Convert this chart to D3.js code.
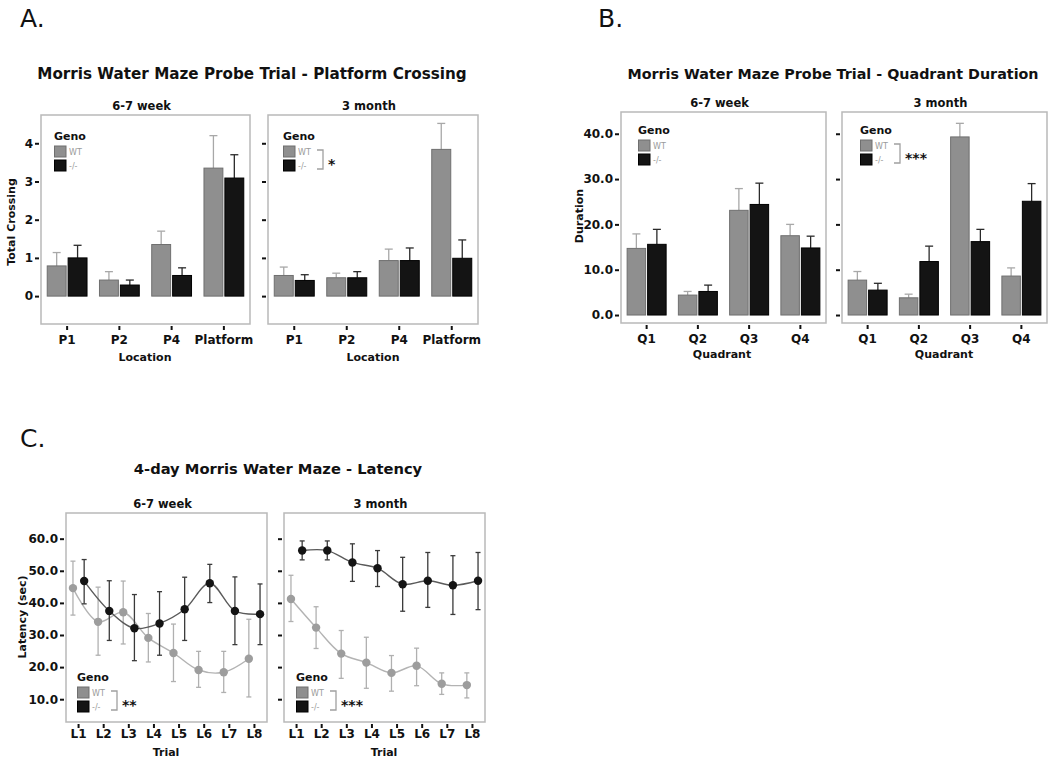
<!DOCTYPE html>
<html><head><meta charset="utf-8">
<script src="https://cdn.jsdelivr.net/npm/d3@7"></script>
<style>body{margin:0;background:#fff} svg{display:block} text{font-family:"DejaVu Sans",Verdana,sans-serif}</style>
</head><body><svg id="c" width="1050" height="761"></svg>
<script>
// ---------- DATA ----------
const locations = ["P1","P2","P4","Platform"];
const crossWT_6w    = [0.79,0.42,1.35,3.35];
const crossWTErr_6w = [1.14,0.64,1.70,4.20];
const crossKO_6w    = [1.00,0.29,0.54,3.09];
const crossKOErr_6w = [1.33,0.42,0.74,3.70];
const crossWT_3m    = [0.54,0.48,0.93,3.84];
const crossWTErr_3m = [0.76,0.60,1.23,4.52];
const crossKO_3m    = [0.41,0.48,0.93,0.99];
const crossKOErr_3m = [0.56,0.64,1.26,1.47];
const crossTicks = [0,1,2,3,4];

const quadrants = ["Q1","Q2","Q3","Q4"];
const durWT_6w    = [14.7,4.4,23.1,17.5];
const durWTErr_6w = [17.9,5.2,27.9,20.0];
const durKO_6w    = [15.6,5.2,24.4,14.8];
const durKOErr_6w = [18.9,6.6,29.1,17.4];
const durWT_3m    = [7.7,3.8,39.3,8.6];
const durWTErr_3m = [9.6,4.6,42.3,10.4];
const durKO_3m    = [5.5,11.8,16.2,25.1];
const durKOErr_3m = [7.0,15.2,18.9,29.0];
const durTicks = [0,10,20,30,40];

const trials = ["L1","L2","L3","L4","L5","L6","L7","L8"];
const latWT_6w   = [44.6,34.1,37.1,29.1,24.4,19.1,18.4,22.6];
const latWTLo_6w = [36.2,23.7,27.2,21.6,15.5,13.7,12.1,10.7];
const latWTHi_6w = [53.0,44.9,46.8,36.7,33.4,24.9,24.9,34.9];
const latKO_6w   = [46.8,37.5,32.1,33.6,38.0,46.1,37.5,36.5];
const latKOLo_6w = [39.7,28.3,22.0,23.7,28.3,40.1,27.0,27.0];
const latKOHi_6w = [53.5,46.9,42.6,43.5,48.0,52.0,48.1,45.9];
const latWT_3m   = [41.2,32.3,24.2,21.4,18.2,20.4,14.8,14.4];
const latWTLo_3m = [34.2,25.8,16.5,13.4,12.5,14.2,11.5,10.4];
const latWTHi_3m = [48.6,38.8,31.4,29.3,23.6,25.9,18.2,18.2];
const latKO_3m   = [56.3,56.3,52.6,50.8,45.8,46.9,45.5,46.9];
const latKOLo_3m = [53.4,53.4,46.7,45.1,37.4,38.6,36.4,37.9];
const latKOHi_3m = [59.3,59.3,58.4,56.3,54.2,55.7,54.7,55.7];
const latTicks = [10,20,30,40,50,60];

const genoLabels = ["WT","-/-"];
const facetLabels = ["6-7 week","3 month"];

// ---------- STYLE ----------
const svg = d3.select("#c");
const FONT = "DejaVu Sans, Verdana, sans-serif";
const WT_FILL="#8f8f8f", WT_STROKE="#6f6f6f", WT_ERR="#a8a8a8";
const KO_FILL="#141414", KO_STROKE="#000", KO_ERR="#2a2a2a";
const BORDER="#b9b9b9";

function txt(x,y,s,o={}){
  const t=svg.append("text").attr("x",x).attr("y",y).text(s)
    .attr("font-family",o.family||FONT)
    .attr("font-size",o.size||12).attr("font-weight",o.weight||"bold")
    .attr("fill",o.fill||"#111").attr("text-anchor",o.anchor||"middle");
  if(o.rotate) t.attr("transform",`rotate(-90,${x},${y})`);
  return t;
}

function frame(box,label){
  svg.append("rect").attr("x",box.x0).attr("y",box.y0)
    .attr("width",box.x1-box.x0).attr("height",box.y1-box.y0)
    .attr("fill","none").attr("stroke",BORDER).attr("stroke-width",1.5);
  txt((box.x0+box.x1)/2-4,box.y0-5,label,{size:11.5});
}

function axes(box,x,y,ticks,fmt,showY,xpad){
  const gy=svg.append("g").attr("transform",`translate(${box.x0-2},0)`)
    .call(d3.axisLeft(y).tickValues(ticks).tickSize(4).tickPadding(2)
      .tickFormat(showY?fmt:()=>""));
  gy.select(".domain").remove();
  gy.selectAll("line").attr("stroke","#111").attr("stroke-width",2);
  gy.selectAll("text").attr("font-size",12).attr("font-weight","bold").attr("fill","#111")
    .attr("font-family",FONT);
  const gx=svg.append("g").attr("transform",`translate(0,${box.y1+2})`)
    .call(d3.axisBottom(x).tickSize(4).tickPadding(xpad));
  gx.select(".domain").remove();
  gx.selectAll("line").attr("stroke","#111").attr("stroke-width",2);
  gx.selectAll("text").attr("font-size",12).attr("font-weight","bold").attr("fill","#111")
    .attr("font-family",FONT);
}

function legend(x,yb,stars){
  txt(x,yb,"Geno",{size:11,anchor:"start"});
  const keys=[{f:WT_FILL,s:WT_STROKE},{f:KO_FILL,s:KO_STROKE}];
  keys.forEach((k,i)=>{
    const ky=yb+6+i*14;
    svg.append("rect").attr("x",x+0.5).attr("y",ky).attr("width",11.5).attr("height",11)
      .attr("fill",k.f).attr("stroke",k.s).attr("stroke-width",1);
    txt(x+15,ky+8.5,genoLabels[i],{size:8,weight:"normal",fill:"#9a9a9a",anchor:"start"});
  });
  if(stars){
    const y1=yb+10, y2=yb+29;
    svg.append("path").attr("d",`M${x+34},${y1}H${x+40}V${y2}H${x+34}`)
      .attr("fill","none").attr("stroke","#a0a0a0").attr("stroke-width",1.3);
    txt(x+45,(y1+y2)/2+9,stars,{size:14,anchor:"start"});
  }
}

function barPanel(box,cats,domain,ticks,fmt,showY,wt,wtErr,ko,koErr,label){
  const x=d3.scaleBand().domain(cats).range([box.x0,box.x1]);
  const y=d3.scaleLinear().domain(domain).range([box.y1,box.y0]);
  frame(box,label);
  const step=x.bandwidth(), bw=0.4*step;
  const series=[{v:wt,e:wtErr,f:WT_FILL,s:WT_STROKE,ec:WT_ERR},{v:ko,e:koErr,f:KO_FILL,s:KO_STROKE,ec:KO_ERR}];
  series.forEach((sr,k)=>{
    const g=svg.append("g");
    cats.forEach((c,i)=>{
      const cx=x(c)+step/2-bw+k*bw+bw/2;
      g.append("line").attr("x1",cx).attr("x2",cx).attr("y1",y(sr.v[i])).attr("y2",y(sr.e[i]))
        .attr("stroke",sr.ec).attr("stroke-width",1.3);
      g.append("line").attr("x1",cx-4).attr("x2",cx+4).attr("y1",y(sr.e[i])).attr("y2",y(sr.e[i]))
        .attr("stroke",sr.ec).attr("stroke-width",1.3);
      g.append("rect").attr("x",cx-bw/2+1).attr("width",bw-2)
        .attr("y",y(sr.v[i])).attr("height",y(0)-y(sr.v[i]))
        .attr("fill",sr.f).attr("stroke",sr.s).attr("stroke-width",1);
    });
  });
  axes(box,x,y,ticks,fmt,showY,5);
}

function linePanel(box,domain,showY,wt,wtLo,wtHi,ko,koLo,koHi,label){
  const x=d3.scaleBand().domain(trials).range([box.x0,box.x1]);
  const y=d3.scaleLinear().domain(domain).range([box.y1,box.y0]);
  frame(box,label);
  const step=x.bandwidth(), dg=5.6;
  const series=[{v:wt,lo:wtLo,hi:wtHi,f:"#9d9d9d",lc:"#b3b3b3",ec:"#b0b0b0",d:-dg},
                {v:ko,lo:koLo,hi:koHi,f:"#141414",lc:"#5a5a5a",ec:"#3a3a3a",d:dg}];
  series.forEach(sr=>{
    const px=i=>x(trials[i])+step/2+sr.d;
    svg.append("path").datum(sr.v)
      .attr("d",d3.line().curve(d3.curveCatmullRom.alpha(0.5)).x((d,i)=>px(i)).y(d=>y(d)))
      .attr("fill","none").attr("stroke",sr.lc).attr("stroke-width",1.4);
    trials.forEach((t,i)=>{
      const cx=px(i);
      svg.append("line").attr("x1",cx).attr("x2",cx).attr("y1",y(sr.lo[i])).attr("y2",y(sr.hi[i]))
        .attr("stroke",sr.ec).attr("stroke-width",1.3);
      [sr.lo[i],sr.hi[i]].forEach(v=>svg.append("line").attr("x1",cx-2.5).attr("x2",cx+2.5)
        .attr("y1",y(v)).attr("y2",y(v)).attr("stroke",sr.ec).attr("stroke-width",1.3));
    });
    trials.forEach((t,i)=>{
      svg.append("circle").attr("cx",px(i)).attr("cy",y(sr.v[i])).attr("r",4.2).attr("fill",sr.f);
    });
  });
  axes(box,x,y,latTicks,d3.format(".1f"),showY,1);
}

const LETTER={size:25,weight:"normal",anchor:"start",family:"Liberation Sans, Arial, sans-serif"};

// ---------- PANEL A ----------
txt(20,27,"A.",LETTER);
txt(252,79,"Morris Water Maze Probe Trial - Platform Crossing",{size:15.2});
const aDom=[-0.73,4.74];
const boxA1={x0:41,x1:250,y0:115,y1:324}, boxA2={x0:268,x1:478,y0:115,y1:324};
barPanel(boxA1,locations,aDom,crossTicks,d3.format("d"),true,crossWT_6w,crossWTErr_6w,crossKO_6w,crossKOErr_6w,facetLabels[0]);
barPanel(boxA2,locations,aDom,crossTicks,d3.format("d"),false,crossWT_3m,crossWTErr_3m,crossKO_3m,crossKOErr_3m,facetLabels[1]);
legend(54,140,null);
legend(283,140,"*");
txt(15,222,"Total Crossing",{size:11,rotate:true});
txt(145,361,"Location",{size:11});
txt(373,361,"Location",{size:11});

// ---------- PANEL B ----------
txt(598,27,"B.",LETTER);
txt(833,79,"Morris Water Maze Probe Trial - Quadrant Duration",{size:14.3});
const bDom=[-1.76,44.8];
const boxB1={x0:621,x1:826,y0:112,y1:323}, boxB2={x0:842,x1:1047,y0:112,y1:323};
barPanel(boxB1,quadrants,bDom,durTicks,d3.format(".1f"),true,durWT_6w,durWTErr_6w,durKO_6w,durKOErr_6w,facetLabels[0]);
barPanel(boxB2,quadrants,bDom,durTicks,d3.format(".1f"),false,durWT_3m,durWTErr_3m,durKO_3m,durKOErr_3m,facetLabels[1]);
legend(638,134,null);
legend(860,134,"***");
txt(583,216,"Duration",{size:11,rotate:true});
txt(722,358,"Quadrant",{size:11});
txt(944,358,"Quadrant",{size:11});

// ---------- PANEL C ----------
txt(20,447,"C.",LETTER);
txt(278,474,"4-day Morris Water Maze - Latency",{size:14.7});
const cDom=[2.9,68];
const boxC1={x0:66,x1:267,y0:513,y1:722}, boxC2={x0:284,x1:485,y0:513,y1:722};
linePanel(boxC1,cDom,true,latWT_6w,latWTLo_6w,latWTHi_6w,latKO_6w,latKOLo_6w,latKOHi_6w,facetLabels[0]);
linePanel(boxC2,cDom,false,latWT_3m,latWTLo_3m,latWTHi_3m,latKO_3m,latKOLo_3m,latKOHi_3m,facetLabels[1]);
legend(77,681,"**");
legend(296,681,"***");
txt(26,617,"Latency (sec)",{size:11,rotate:true});
txt(166,756,"Trial",{size:11});
txt(384,756,"Trial",{size:11});
</script></body></html>
